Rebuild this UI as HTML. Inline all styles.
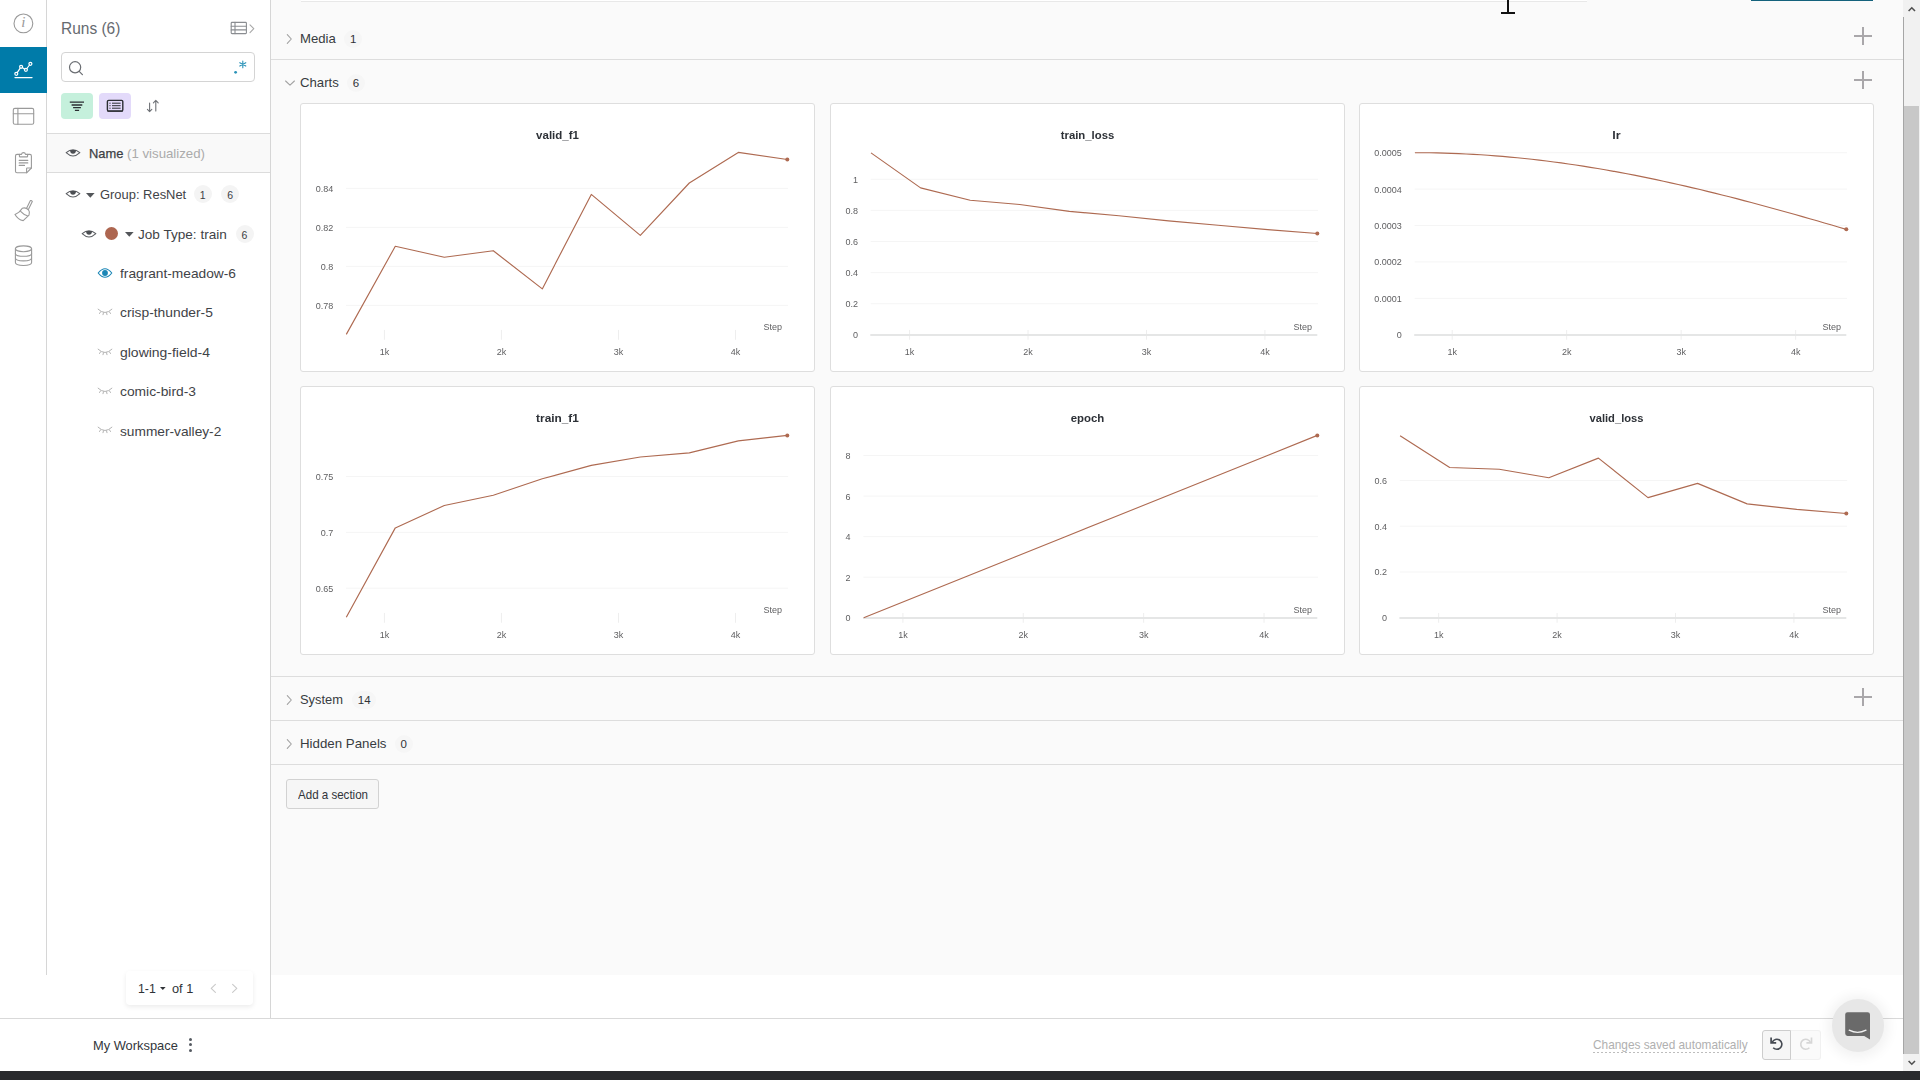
<!DOCTYPE html>
<html lang="en"><head><meta charset="utf-8"><title>Workspace</title>
<style>
html,body{margin:0;padding:0;}
body{width:1920px;height:1080px;position:relative;overflow:hidden;background:#fff;
 font-family:"Liberation Sans",sans-serif;}
.b{position:absolute;box-sizing:border-box;}
.t{position:absolute;white-space:nowrap;transform-origin:0 0;line-height:normal;display:block;}
svg{position:absolute;overflow:visible;}
</style></head><body>
<div class="b" style="left:271px;top:0px;width:1632px;height:975px;background:#fafafa;"></div>
<div class="b" style="left:46px;top:0px;width:1px;height:975px;background:#d6d6d6;"></div>
<div class="b" style="left:270px;top:0px;width:1px;height:1018px;background:#d6d6d6;"></div>
<div class="b" style="left:0px;top:1018px;width:1903px;height:1px;background:#d9d9d9;"></div>
<div class="b" style="left:0px;top:1071px;width:1920px;height:9px;background:#292a2d;"></div>
<div class="b" style="left:0px;top:47px;width:47px;height:46px;background:#007ba9;"></div>
<svg width="47" height="280" style="left:0;top:0" viewBox="0 0 47 280" fill="none" stroke="#9a9a9a" stroke-width="1.1" stroke-linecap="round" stroke-linejoin="round">
<circle cx="23.4" cy="23.4" r="9.4"/>
<g stroke="#fff" stroke-width="1.2">
 <path d="M17.2 72.6 L20.2 68.1 M22.2 67.4 L24.8 69.2 M26.9 68.5 L29.5 65"/>
 <circle cx="16.3" cy="73.8" r="1.5"/><circle cx="21.1" cy="66.8" r="1.5"/><circle cx="25.9" cy="69.8" r="1.5"/><circle cx="30.4" cy="63.8" r="1.5"/>
 <path d="M15 77.6 H32" stroke-width="1.4"/>
</g>
<rect x="13.3" y="108.4" width="20.4" height="15.9" rx="1.6"/>
<path d="M13.3 113.7 H33.7 M17.9 108.4 V124.3"/>
<path d="M19.4 154.4 H17 Q15.5 154.4 15.5 155.9 V171.3 Q15.5 172.8 17 172.8 H26.6 L31.4 168 V155.9 Q31.4 154.4 29.9 154.4 H27.6"/>
<path d="M26.6 172.8 V168.6 Q26.6 168 27.2 168 H31.4"/>
<path d="M19.4 154.4 H21.5 Q21.8 152.6 23.5 152.6 Q25.2 152.6 25.5 154.4 H27.6 V156.2 Q27.6 156.9 26.9 156.9 H20.1 Q19.4 156.9 19.4 156.2 Z"/>
<path d="M19.2 160.4 H27.8 M19.2 162.9 H27.8 M19.2 165.4 H24.5"/>
<path d="M30.4 200.6 L26.6 208.2 M32.3 201.6 L28.5 209.2 M30.4 200.6 Q31.7 200.2 32.3 201.6"/>
<path d="M22.3 208.3 Q25.6 207 28.6 210 Q30.3 212.3 29 215.2 L23.2 220.6 Q18 219.6 15 214.4 Q19.4 212.8 22.3 208.3 Z"/>
<path d="M20.6 211.3 Q23.6 214.6 27.4 215.7"/>
<ellipse cx="23.5" cy="248.8" rx="8.1" ry="2.9"/>
<path d="M15.4 248.8 V262.6 Q15.4 265.5 23.5 265.5 Q31.6 265.5 31.6 262.6 V248.8"/>
<path d="M15.4 253.4 Q15.4 256.3 23.5 256.3 Q31.6 256.3 31.6 253.4 M15.4 258 Q15.4 260.9 23.5 260.9 Q31.6 260.9 31.6 258"/>
</svg>
<span class="t" style="left:21.2px;top:14.4px;font-size:15px;color:#9a9a9a;font-family:'Liberation Serif',serif;font-style:italic;">i</span>
<span class="t" style="left:60.90px;top:18.96px;font-size:16.4px;color:#666a70;transform:scaleX(0.9446);">Runs (6)</span>
<svg width="30" height="16" style="left:229px;top:20px" viewBox="229 20 30 16" fill="none" stroke="#8a8d91" stroke-width="1.1" stroke-linejoin="round" stroke-linecap="round">
<rect x="231.2" y="22.4" width="15.2" height="11.2" rx="0.8"/>
<path d="M231.2 26.2 H246.4 M231.2 29.9 H246.4 M235 22.4 V33.6"/>
<path d="M250 24.8 L253.8 28.7 L250 32.6" stroke="#a8a8a8"/>
</svg>
<div class="b" style="left:61px;top:52px;width:194px;height:30px;border:1px solid #d4d4d4;border-radius:4px;background:#fff;"></div>
<svg width="200" height="30" style="left:61px;top:52px" viewBox="61 52 200 30" fill="none" stroke="#6a6d72" stroke-width="1.2" stroke-linecap="round">
<circle cx="75.1" cy="67.3" r="5.6"/><path d="M79.2 71.4 L82.4 74.6"/>
<g stroke="#2c93b8" stroke-width="1.1"><path d="M242.8 61 V67.8 M239.8 62.7 L245.8 66.1 M245.8 62.7 L239.8 66.1"/></g>
<circle cx="235.6" cy="72.3" r="1.4" fill="#2c93b8" stroke="none"/>
</svg>
<div class="b" style="left:61px;top:93px;width:32px;height:26px;background:#c5f0dc;border-radius:4px;"></div>
<div class="b" style="left:99px;top:93px;width:32px;height:26px;background:#e3dafa;border-radius:4px;"></div>
<svg width="110" height="30" style="left:61px;top:91px" viewBox="61 91 110 30" fill="none" stroke="#2b2e33" stroke-width="1.3" stroke-linecap="butt">
<path d="M69.8 102.1 H84 M71.6 105 H82.3 M73.1 107.7 H80.9 M74.9 110.4 H79.1" stroke-width="1.3"/>
<rect x="107.4" y="100.4" width="15.4" height="10.6" rx="1.2" stroke-width="1.4"/>
<path d="M107.4 111.3 H122.8" stroke-width="0.9"/>
<path d="M112 103.2 H120.6 M112 105.7 H120.6 M112 108.2 H120.6" stroke-width="1"/>
<path d="M109.4 103.2 H110.6 M109.4 105.7 H110.6 M109.4 108.2 H110.6" stroke-width="1"/>
<g stroke="#6f7277" stroke-width="1.1" stroke-linecap="round" stroke-linejoin="round">
<path d="M149.6 103 V111.6 M147.4 109.4 L149.6 111.6 L151.8 109.4"/>
<path d="M155.8 111 V100.4 M153.4 102.8 L155.8 100.4 L158.2 102.8"/>
</g>
</svg>
<div class="b" style="left:47px;top:133px;width:223px;height:40px;background:#f9f9f9;border-top:1px solid #dcdcdc;border-bottom:1px solid #dcdcdc;"></div>
<svg width="18" height="12" style="left:63.50px;top:147.40px" viewBox="63.50 147.40 18 12" fill="none" stroke="#5c5f63" stroke-width="1.05" stroke-linejoin="round">
<path d="M65.65 153.10 Q72.50 147.10 79.35 153.10 Q72.50 159.70 65.65 153.10 Z"/>
<path d="M69.60 150.30 Q69.50 154.10 72.50 154.10 Q75.50 154.10 75.50 150.30 Z" fill="#4c4f53" stroke="none"/>
</svg>
<span class="t" style="left:88.50px;top:146.04px;font-size:13px;color:#3c4045;transform:scaleX(0.9921);-webkit-text-stroke:0.25px #3c4045;">Name</span>
<span class="t" style="left:127.00px;top:146.04px;font-size:13px;color:#ababab;transform:scaleX(1.0185);">(1 visualized)</span>
<svg width="18" height="12" style="left:63.50px;top:188.40px" viewBox="63.50 188.40 18 12" fill="none" stroke="#5c5f63" stroke-width="1.05" stroke-linejoin="round">
<path d="M65.65 194.10 Q72.50 188.10 79.35 194.10 Q72.50 200.70 65.65 194.10 Z"/>
<path d="M69.60 191.30 Q69.50 195.10 72.50 195.10 Q75.50 195.10 75.50 191.30 Z" fill="#4c4f53" stroke="none"/>
</svg>
<svg width="12" height="8" style="left:85.10px;top:192.00px" viewBox="85.10 192.00 12 8"><path d="M86.10 193.00 H94.70 L90.40 197.80 Z" fill="#53565a"/></svg>
<span class="t" style="left:99.50px;top:187.04px;font-size:13px;color:#3f4347;transform:scaleX(0.9943);">Group: ResNet</span>
<div class="b" style="left:193.7px;top:185.0px;width:18px;height:18px;background:#f4f4f4;border-radius:9px;"></div>
<span class="t" style="left:199.78px;top:189.00px;font-size:10.5px;color:#3c3f44;">1</span>
<div class="b" style="left:221.1px;top:185.0px;width:18px;height:18px;background:#f4f4f4;border-radius:9px;"></div>
<span class="t" style="left:227.18px;top:189.00px;font-size:10.5px;color:#3c3f44;">6</span>
<svg width="18" height="12" style="left:79.50px;top:227.50px" viewBox="79.50 227.50 18 12" fill="none" stroke="#5c5f63" stroke-width="1.05" stroke-linejoin="round">
<path d="M81.65 233.20 Q88.50 227.20 95.35 233.20 Q88.50 239.80 81.65 233.20 Z"/>
<path d="M85.60 230.40 Q85.50 234.20 88.50 234.20 Q91.50 234.20 91.50 230.40 Z" fill="#4c4f53" stroke="none"/>
</svg>
<div class="b" style="left:105.0px;top:226.9px;width:13.4px;height:13.4px;background:#ad6650;border-radius:50%;"></div>
<svg width="12" height="8" style="left:123.60px;top:231.10px" viewBox="123.60 231.10 12 8"><path d="M124.60 232.10 H133.20 L128.90 236.90 Z" fill="#53565a"/></svg>
<span class="t" style="left:138.20px;top:226.74px;font-size:13px;color:#3f4347;transform:scaleX(1.0444);">Job Type: train</span>
<div class="b" style="left:235.5px;top:224.7px;width:18px;height:18px;background:#f4f4f4;border-radius:9px;"></div>
<span class="t" style="left:241.58px;top:228.70px;font-size:10.5px;color:#3c3f44;">6</span>
<svg width="18" height="12" style="left:95.60px;top:267.00px" viewBox="95.60 267.00 18 12" fill="none" stroke="#1a86b6" stroke-width="1.1" stroke-linejoin="round">
<path d="M97.80 273.00 Q104.60 264.40 111.40 273.00 Q104.60 281.60 97.80 273.00 Z"/>
<circle cx="104.60" cy="273.00" r="2.9" fill="#1a86b6" stroke="none"/>
</svg>
<span class="t" style="left:120.40px;top:265.94px;font-size:13px;color:#3f4347;transform:scaleX(1.0554);">fragrant-meadow-6</span>
<svg width="18" height="12" style="left:95.70px;top:306.20px" viewBox="95.70 306.20 18 12" fill="none" stroke="#b4b4b4" stroke-width="1" stroke-linecap="round">
<path d="M97.80 309.40 Q104.70 316.20 111.60 309.40"/>
<path d="M100.30 312.00 L99.20 313.70 M103.20 312.90 L102.70 314.90 M106.20 312.90 L106.70 314.90 M109.10 312.00 L110.20 313.70"/>
</svg>
<span class="t" style="left:120.40px;top:305.34px;font-size:13px;color:#3f4347;transform:scaleX(1.0627);">crisp-thunder-5</span>
<svg width="18" height="12" style="left:95.70px;top:345.60px" viewBox="95.70 345.60 18 12" fill="none" stroke="#b4b4b4" stroke-width="1" stroke-linecap="round">
<path d="M97.80 348.80 Q104.70 355.60 111.60 348.80"/>
<path d="M100.30 351.40 L99.20 353.10 M103.20 352.30 L102.70 354.30 M106.20 352.30 L106.70 354.30 M109.10 351.40 L110.20 353.10"/>
</svg>
<span class="t" style="left:120.40px;top:344.74px;font-size:13px;color:#3f4347;transform:scaleX(1.0738);">glowing-field-4</span>
<svg width="18" height="12" style="left:95.70px;top:385.00px" viewBox="95.70 385.00 18 12" fill="none" stroke="#b4b4b4" stroke-width="1" stroke-linecap="round">
<path d="M97.80 388.20 Q104.70 395.00 111.60 388.20"/>
<path d="M100.30 390.80 L99.20 392.50 M103.20 391.70 L102.70 393.70 M106.20 391.70 L106.70 393.70 M109.10 390.80 L110.20 392.50"/>
</svg>
<span class="t" style="left:120.40px;top:384.14px;font-size:13px;color:#3f4347;transform:scaleX(1.0628);">comic-bird-3</span>
<svg width="18" height="12" style="left:95.70px;top:424.40px" viewBox="95.70 424.40 18 12" fill="none" stroke="#b4b4b4" stroke-width="1" stroke-linecap="round">
<path d="M97.80 427.60 Q104.70 434.40 111.60 427.60"/>
<path d="M100.30 430.20 L99.20 431.90 M103.20 431.10 L102.70 433.10 M106.20 431.10 L106.70 433.10 M109.10 430.20 L110.20 431.90"/>
</svg>
<span class="t" style="left:120.40px;top:423.54px;font-size:13px;color:#3f4347;transform:scaleX(1.0545);">summer-valley-2</span>
<div class="b" style="left:126px;top:971px;width:127px;height:34px;background:#fff;border-radius:4px;box-shadow:0 2px 5px rgba(0,0,0,0.08);"></div>
<span class="t" style="left:138.20px;top:980.84px;font-size:13px;color:#2f3237;transform:scaleX(0.9475);">1-1</span>
<svg width="12" height="8" style="left:159.10px;top:986.40px" viewBox="159.10 986.40 12 8"><path d="M160.10 987.40 H165.70 L162.90 990.40 Z" fill="#2f3237"/></svg>
<span class="t" style="left:172.20px;top:980.84px;font-size:13px;color:#2f3237;transform:scaleX(0.9824);">of 1</span>
<svg width="40" height="14" style="left:205px;top:981px" viewBox="205 981 40 14" fill="none" stroke="#c9c9c9" stroke-width="1.1" stroke-linecap="round" stroke-linejoin="round">
<path d="M215.4 984.4 L211.2 988.4 L215.4 992.4"/><path d="M232.6 984.4 L236.8 988.4 L232.6 992.4"/></svg>
<span class="t" style="left:92.50px;top:1038.23px;font-size:13px;color:#32363b;transform:scaleX(0.9893);">My Workspace</span>
<div class="b" style="left:188.8px;top:1037.8000000000002px;width:3.2px;height:3.2px;background:#555a61;border-radius:50%;"></div>
<div class="b" style="left:188.8px;top:1043.2px;width:3.2px;height:3.2px;background:#555a61;border-radius:50%;"></div>
<div class="b" style="left:188.8px;top:1048.5px;width:3.2px;height:3.2px;background:#555a61;border-radius:50%;"></div>
<span class="t" style="left:1593.30px;top:1036.63px;font-size:13px;color:#b0b0b0;transform:scaleX(0.9104);">Changes saved automatically</span>
<div class="b" style="left:1593.3px;top:1052px;width:154.6px;height:1px;background:repeating-linear-gradient(90deg,#bdbdbd 0 2px,transparent 2px 4px);"></div>
<div class="b" style="left:1762px;top:1030px;width:29px;height:30px;background:#f6f6f6;border:1px solid #cdcdcd;border-radius:3px 0 0 3px;"></div>
<div class="b" style="left:1791px;top:1030px;width:30px;height:30px;background:#fafafa;border:1px solid #f1f1f1;border-left:none;border-radius:0 3px 3px 0;"></div>
<svg width="60" height="30" style="left:1762px;top:1030px" viewBox="1762 1030 60 30" fill="none" stroke-width="1.6" stroke-linecap="butt" stroke-linejoin="miter">
<g stroke="#454a52"><path d="M1772.3 1042.2 A5 5 0 1 1 1773.2 1047.7"/><path d="M1771.1 1037.5 V1042.8 H1776.2" stroke-width="1.7"/></g>
<g stroke="#d6d6d6"><path d="M1810.3 1042.2 A5 5 0 1 0 1809.4 1047.7"/><path d="M1811.5 1037.5 V1042.8 H1806.4" stroke-width="1.7"/></g>
</svg>
<div class="b" style="left:1831.8px;top:999px;width:52.4px;height:52.6px;background:#e7e7e7;border-radius:50%;box-shadow:0 1px 12px 5px rgba(0,0,0,0.05);"></div>
<svg width="30" height="30" style="left:1843px;top:1010px" viewBox="1843 1010 30 30">
<path d="M1847.6 1012.2 H1867.6 Q1870 1012.2 1870 1014.6 V1039.6 L1864.2 1036 H1847.6 Q1845.2 1036 1845.2 1033.6 V1014.6 Q1845.2 1012.2 1847.6 1012.2 Z" fill="#6a6a6a"/>
<path d="M1849.2 1030.2 Q1857.6 1034.6 1866 1030.2" fill="none" stroke="#f1f1f1" stroke-width="1.3" stroke-linecap="round"/>
</svg>
<div class="b" style="left:1903px;top:0px;width:17px;height:1071px;background:#f1f1f1;"></div>
<div class="b" style="left:1903px;top:17px;width:1px;height:1037px;background:#a6a6a6;"></div>
<div class="b" style="left:1904px;top:106px;width:15px;height:948px;background:#c8c8c8;"></div>
<svg width="17" height="1071" style="left:1903px;top:0" viewBox="1903 0 17 1071" fill="none" stroke="#505050" stroke-width="1.6">
<path d="M1908.6 11 L1911.8 7.8 L1915 11"/><path d="M1908.6 1061 L1911.8 1064.2 L1915 1061"/></svg>
<div class="b" style="left:301px;top:0px;width:1286px;height:1px;background:#ffffff;"></div>
<div class="b" style="left:301px;top:1px;width:1286px;height:1px;background:#e8e8e8;"></div>
<div class="b" style="left:1751px;top:0px;width:122px;height:1px;background:#14627c;"></div>
<div class="b" style="left:1507px;top:0px;width:2px;height:13px;background:#111;"></div>
<div class="b" style="left:1501px;top:12px;width:14px;height:2px;background:#111;"></div>
<div class="b" style="left:271px;top:59px;width:1632px;height:1px;background:#dddddd;"></div>
<div class="b" style="left:271px;top:676px;width:1632px;height:1px;background:#dddddd;"></div>
<div class="b" style="left:271px;top:720px;width:1632px;height:1px;background:#dddddd;"></div>
<div class="b" style="left:271px;top:764px;width:1632px;height:1px;background:#dddddd;"></div>
<svg width="10" height="14" style="left:284.20px;top:31.80px" viewBox="284.20 31.80 10 14" fill="none" stroke="#a2a2a2" stroke-width="1.1" stroke-linecap="round" stroke-linejoin="round"><path d="M287.50 34.40 L291.50 38.80 L287.50 43.20"/></svg>
<span class="t" style="left:300.30px;top:30.78px;font-size:13.5px;color:#383c41;transform:scaleX(0.9737);">Media</span>
<div class="b" style="left:344.2px;top:30.299999999999997px;width:18px;height:18px;background:#f6f6f6;border-radius:9px;"></div>
<span class="t" style="left:350.00px;top:32.89px;font-size:11.5px;color:#2f3237;">1</span>
<div class="b" style="left:1853.8px;top:35.05px;width:18.6px;height:1.7px;background:#a9a7aa;"></div>
<div class="b" style="left:1862.25px;top:26.599999999999998px;width:1.7px;height:18.6px;background:#a9a7aa;"></div>
<svg width="14" height="10" style="left:282.60px;top:78.20px" viewBox="282.60 78.20 14 10" fill="none" stroke="#a2a2a2" stroke-width="1.1" stroke-linecap="round" stroke-linejoin="round"><path d="M285.20 81.20 L289.60 85.40 L294.00 81.20"/></svg>
<span class="t" style="left:300.30px;top:74.58px;font-size:13.5px;color:#383c41;transform:scaleX(0.9759);">Charts</span>
<div class="b" style="left:347.0px;top:74.3px;width:18px;height:18px;background:#f6f6f6;border-radius:9px;"></div>
<span class="t" style="left:352.80px;top:76.69px;font-size:11.5px;color:#2f3237;">6</span>
<div class="b" style="left:1853.8px;top:78.95px;width:18.6px;height:1.7px;background:#a9a7aa;"></div>
<div class="b" style="left:1862.25px;top:70.5px;width:1.7px;height:18.6px;background:#a9a7aa;"></div>
<svg width="10" height="14" style="left:284.20px;top:692.80px" viewBox="284.20 692.80 10 14" fill="none" stroke="#a2a2a2" stroke-width="1.1" stroke-linecap="round" stroke-linejoin="round"><path d="M287.50 695.40 L291.50 699.80 L287.50 704.20"/></svg>
<span class="t" style="left:300.30px;top:691.58px;font-size:13.5px;color:#383c41;transform:scaleX(0.9554);">System</span>
<div class="b" style="left:352.2px;top:691.3px;width:24px;height:18px;background:#f6f6f6;border-radius:9px;"></div>
<span class="t" style="left:357.80px;top:693.69px;font-size:11.5px;color:#2f3237;">14</span>
<div class="b" style="left:1853.8px;top:696.15px;width:18.6px;height:1.7px;background:#a9a7aa;"></div>
<div class="b" style="left:1862.25px;top:687.7px;width:1.7px;height:18.6px;background:#a9a7aa;"></div>
<svg width="10" height="14" style="left:284.20px;top:736.80px" viewBox="284.20 736.80 10 14" fill="none" stroke="#a2a2a2" stroke-width="1.1" stroke-linecap="round" stroke-linejoin="round"><path d="M287.50 739.40 L291.50 743.80 L287.50 748.20"/></svg>
<span class="t" style="left:300.30px;top:735.78px;font-size:13.5px;color:#383c41;transform:scaleX(0.9851);">Hidden Panels</span>
<div class="b" style="left:394.8px;top:735.3px;width:18px;height:18px;background:#f6f6f6;border-radius:9px;"></div>
<span class="t" style="left:400.60px;top:737.89px;font-size:11.5px;color:#2f3237;">0</span>
<div class="b" style="left:286px;top:779px;width:93px;height:30px;background:#f6f6f6;border:1px solid #d2d2d2;border-radius:3px;"></div>
<span class="t" style="left:297.50px;top:787.03px;font-size:13px;color:#30343a;transform:scaleX(0.8887);">Add a section</span>
<div class="b" style="left:300px;top:103.0px;width:515px;height:269px;background:#fff;border:1px solid #dedede;border-radius:3px;"></div>
<svg width="515" height="269" style="left:300px;top:103.0px;will-change:transform" viewBox="300 103.0 515 269" font-family="Liberation Sans, sans-serif">
<text x="536.10" y="138.60" font-size="11.7" font-weight="700" fill="#2d3137" textLength="42.80" lengthAdjust="spacingAndGlyphs">valid_f1</text>
<path d="M346.00 188.40 H788.10" stroke="#f5f5f5" stroke-width="1" fill="none"/>
<text x="333.20" y="191.80" font-size="9" fill="#5f5f61" text-anchor="end">0.84</text>
<path d="M346.00 227.40 H788.10" stroke="#f5f5f5" stroke-width="1" fill="none"/>
<text x="333.20" y="230.80" font-size="9" fill="#5f5f61" text-anchor="end">0.82</text>
<path d="M346.00 266.40 H788.10" stroke="#f5f5f5" stroke-width="1" fill="none"/>
<text x="333.20" y="269.80" font-size="9" fill="#5f5f61" text-anchor="end">0.8</text>
<path d="M346.00 305.40 H788.10" stroke="#f5f5f5" stroke-width="1" fill="none"/>
<text x="333.20" y="308.80" font-size="9" fill="#5f5f61" text-anchor="end">0.78</text>
<path d="M384.41 329.95 V339.75" stroke="#eeeeee" stroke-width="1" fill="none"/>
<text x="384.41" y="355.10" font-size="9" fill="#5f5f61" text-anchor="middle">1k</text>
<path d="M501.45 329.95 V339.75" stroke="#eeeeee" stroke-width="1" fill="none"/>
<text x="501.45" y="355.10" font-size="9" fill="#5f5f61" text-anchor="middle">2k</text>
<path d="M618.48 329.95 V339.75" stroke="#eeeeee" stroke-width="1" fill="none"/>
<text x="618.48" y="355.10" font-size="9" fill="#5f5f61" text-anchor="middle">3k</text>
<path d="M735.52 329.95 V339.75" stroke="#eeeeee" stroke-width="1" fill="none"/>
<text x="735.52" y="355.10" font-size="9" fill="#5f5f61" text-anchor="middle">4k</text>
<text x="781.90" y="329.90" font-size="9" fill="#5f5f61" text-anchor="end">Step</text>
<polyline points="346.30,334.40 395.30,246.30 444.30,257.20 493.30,250.70 542.30,288.90 591.30,194.40 640.30,235.40 689.30,183.00 738.30,152.40 787.30,159.50" fill="none" stroke="#ae6a51" stroke-width="1.15" stroke-linejoin="round"/>
<circle cx="787.30" cy="159.50" r="2" fill="#ae6a51"/>
</svg>
<div class="b" style="left:830px;top:103.0px;width:515px;height:269px;background:#fff;border:1px solid #dedede;border-radius:3px;"></div>
<svg width="515" height="269" style="left:830px;top:103.0px;will-change:transform" viewBox="830 103.0 515 269" font-family="Liberation Sans, sans-serif">
<text x="1060.70" y="138.60" font-size="11.7" font-weight="700" fill="#2d3137" textLength="53.60" lengthAdjust="spacingAndGlyphs">train_loss</text>
<path d="M870.70 179.30 H1318.10" stroke="#f5f5f5" stroke-width="1" fill="none"/>
<text x="857.90" y="182.70" font-size="9" fill="#5f5f61" text-anchor="end">1</text>
<path d="M870.70 210.40 H1318.10" stroke="#f5f5f5" stroke-width="1" fill="none"/>
<text x="857.90" y="213.80" font-size="9" fill="#5f5f61" text-anchor="end">0.8</text>
<path d="M870.70 241.50 H1318.10" stroke="#f5f5f5" stroke-width="1" fill="none"/>
<text x="857.90" y="244.90" font-size="9" fill="#5f5f61" text-anchor="end">0.6</text>
<path d="M870.70 272.60 H1318.10" stroke="#f5f5f5" stroke-width="1" fill="none"/>
<text x="857.90" y="276.00" font-size="9" fill="#5f5f61" text-anchor="end">0.4</text>
<path d="M870.70 303.70 H1318.10" stroke="#f5f5f5" stroke-width="1" fill="none"/>
<text x="857.90" y="307.10" font-size="9" fill="#5f5f61" text-anchor="end">0.2</text>
<text x="857.90" y="338.20" font-size="9" fill="#5f5f61" text-anchor="end">0</text>
<path d="M909.57 329.95 V339.75" stroke="#eeeeee" stroke-width="1" fill="none"/>
<text x="909.57" y="355.10" font-size="9" fill="#5f5f61" text-anchor="middle">1k</text>
<path d="M1028.01 329.95 V339.75" stroke="#eeeeee" stroke-width="1" fill="none"/>
<text x="1028.01" y="355.10" font-size="9" fill="#5f5f61" text-anchor="middle">2k</text>
<path d="M1146.46 329.95 V339.75" stroke="#eeeeee" stroke-width="1" fill="none"/>
<text x="1146.46" y="355.10" font-size="9" fill="#5f5f61" text-anchor="middle">3k</text>
<path d="M1264.90 329.95 V339.75" stroke="#eeeeee" stroke-width="1" fill="none"/>
<text x="1264.90" y="355.10" font-size="9" fill="#5f5f61" text-anchor="middle">4k</text>
<path d="M870.30 335.05 H1317.30" stroke="#e5e6e6" stroke-width="2" fill="none"/>
<text x="1311.90" y="329.90" font-size="9" fill="#5f5f61" text-anchor="end">Step</text>
<polyline points="871.00,152.90 920.59,187.90 970.18,200.20 1019.77,204.50 1069.36,211.40 1118.94,215.70 1168.53,220.90 1218.12,225.30 1267.71,229.60 1317.30,233.50" fill="none" stroke="#ae6a51" stroke-width="1.15" stroke-linejoin="round"/>
<circle cx="1317.30" cy="233.50" r="2" fill="#ae6a51"/>
</svg>
<div class="b" style="left:1359px;top:103.0px;width:515px;height:269px;background:#fff;border:1px solid #dedede;border-radius:3px;"></div>
<svg width="515" height="269" style="left:1359px;top:103.0px;will-change:transform" viewBox="1359 103.0 515 269" font-family="Liberation Sans, sans-serif">
<text x="1612.30" y="138.60" font-size="11.7" font-weight="700" fill="#2d3137" textLength="8.40" lengthAdjust="spacingAndGlyphs">lr</text>
<path d="M1414.60 152.70 H1847.10" stroke="#f5f5f5" stroke-width="1" fill="none"/>
<text x="1401.80" y="156.10" font-size="9" fill="#5f5f61" text-anchor="end">0.0005</text>
<path d="M1414.60 189.10 H1847.10" stroke="#f5f5f5" stroke-width="1" fill="none"/>
<text x="1401.80" y="192.50" font-size="9" fill="#5f5f61" text-anchor="end">0.0004</text>
<path d="M1414.60 225.50 H1847.10" stroke="#f5f5f5" stroke-width="1" fill="none"/>
<text x="1401.80" y="228.90" font-size="9" fill="#5f5f61" text-anchor="end">0.0003</text>
<path d="M1414.60 261.90 H1847.10" stroke="#f5f5f5" stroke-width="1" fill="none"/>
<text x="1401.80" y="265.30" font-size="9" fill="#5f5f61" text-anchor="end">0.0002</text>
<path d="M1414.60 298.40 H1847.10" stroke="#f5f5f5" stroke-width="1" fill="none"/>
<text x="1401.80" y="301.80" font-size="9" fill="#5f5f61" text-anchor="end">0.0001</text>
<text x="1401.80" y="338.20" font-size="9" fill="#5f5f61" text-anchor="end">0</text>
<path d="M1452.18 329.95 V339.75" stroke="#eeeeee" stroke-width="1" fill="none"/>
<text x="1452.18" y="355.10" font-size="9" fill="#5f5f61" text-anchor="middle">1k</text>
<path d="M1566.67 329.95 V339.75" stroke="#eeeeee" stroke-width="1" fill="none"/>
<text x="1566.67" y="355.10" font-size="9" fill="#5f5f61" text-anchor="middle">2k</text>
<path d="M1681.16 329.95 V339.75" stroke="#eeeeee" stroke-width="1" fill="none"/>
<text x="1681.16" y="355.10" font-size="9" fill="#5f5f61" text-anchor="middle">3k</text>
<path d="M1795.65 329.95 V339.75" stroke="#eeeeee" stroke-width="1" fill="none"/>
<text x="1795.65" y="355.10" font-size="9" fill="#5f5f61" text-anchor="middle">4k</text>
<path d="M1414.20 335.05 H1846.30" stroke="#e5e6e6" stroke-width="2" fill="none"/>
<text x="1840.90" y="329.90" font-size="9" fill="#5f5f61" text-anchor="end">Step</text>
<polyline points="1414.90,152.70 1422.21,152.73 1429.52,152.80 1436.84,152.93 1444.15,153.12 1451.46,153.35 1458.77,153.64 1466.08,153.97 1473.39,154.36 1480.71,154.80 1488.02,155.30 1495.33,155.84 1502.64,156.43 1509.95,157.07 1517.27,157.76 1524.58,158.50 1531.89,159.29 1539.20,160.13 1546.51,161.02 1553.83,161.95 1561.14,162.93 1568.45,163.96 1575.76,165.03 1583.07,166.15 1590.38,167.31 1597.70,168.52 1605.01,169.76 1612.32,171.06 1619.63,172.39 1626.94,173.76 1634.26,175.18 1641.57,176.63 1648.88,178.12 1656.19,179.65 1663.50,181.22 1670.82,182.82 1678.13,184.45 1685.44,186.12 1692.75,187.83 1700.06,189.56 1707.37,191.33 1714.69,193.13 1722.00,194.95 1729.31,196.80 1736.62,198.68 1743.93,200.59 1751.25,202.52 1758.56,204.48 1765.87,206.45 1773.18,208.45 1780.49,210.47 1787.81,212.51 1795.12,214.56 1802.43,216.64 1809.74,218.72 1817.05,220.82 1824.36,222.94 1831.68,225.07 1838.99,227.20 1846.30,229.35" fill="none" stroke="#ae6a51" stroke-width="1.15" stroke-linejoin="round"/>
<circle cx="1846.30" cy="229.35" r="2" fill="#ae6a51"/>
</svg>
<div class="b" style="left:300px;top:386.0px;width:515px;height:269px;background:#fff;border:1px solid #dedede;border-radius:3px;"></div>
<svg width="515" height="269" style="left:300px;top:386.0px;will-change:transform" viewBox="300 386.0 515 269" font-family="Liberation Sans, sans-serif">
<text x="536.10" y="421.60" font-size="11.7" font-weight="700" fill="#2d3137" textLength="42.80" lengthAdjust="spacingAndGlyphs">train_f1</text>
<path d="M346.00 476.50 H788.10" stroke="#f5f5f5" stroke-width="1" fill="none"/>
<text x="333.20" y="479.90" font-size="9" fill="#5f5f61" text-anchor="end">0.75</text>
<path d="M346.00 532.40 H788.10" stroke="#f5f5f5" stroke-width="1" fill="none"/>
<text x="333.20" y="535.80" font-size="9" fill="#5f5f61" text-anchor="end">0.7</text>
<path d="M346.00 588.20 H788.10" stroke="#f5f5f5" stroke-width="1" fill="none"/>
<text x="333.20" y="591.60" font-size="9" fill="#5f5f61" text-anchor="end">0.65</text>
<path d="M384.41 612.95 V622.75" stroke="#eeeeee" stroke-width="1" fill="none"/>
<text x="384.41" y="638.10" font-size="9" fill="#5f5f61" text-anchor="middle">1k</text>
<path d="M501.45 612.95 V622.75" stroke="#eeeeee" stroke-width="1" fill="none"/>
<text x="501.45" y="638.10" font-size="9" fill="#5f5f61" text-anchor="middle">2k</text>
<path d="M618.48 612.95 V622.75" stroke="#eeeeee" stroke-width="1" fill="none"/>
<text x="618.48" y="638.10" font-size="9" fill="#5f5f61" text-anchor="middle">3k</text>
<path d="M735.52 612.95 V622.75" stroke="#eeeeee" stroke-width="1" fill="none"/>
<text x="735.52" y="638.10" font-size="9" fill="#5f5f61" text-anchor="middle">4k</text>
<text x="781.90" y="612.90" font-size="9" fill="#5f5f61" text-anchor="end">Step</text>
<polyline points="346.30,617.30 395.30,527.90 444.30,505.50 493.30,495.20 542.30,478.80 591.30,465.40 640.30,457.00 689.30,452.90 738.30,440.90 787.30,435.40" fill="none" stroke="#ae6a51" stroke-width="1.15" stroke-linejoin="round"/>
<circle cx="787.30" cy="435.40" r="2" fill="#ae6a51"/>
</svg>
<div class="b" style="left:830px;top:386.0px;width:515px;height:269px;background:#fff;border:1px solid #dedede;border-radius:3px;"></div>
<svg width="515" height="269" style="left:830px;top:386.0px;will-change:transform" viewBox="830 386.0 515 269" font-family="Liberation Sans, sans-serif">
<text x="1070.70" y="421.60" font-size="11.7" font-weight="700" fill="#2d3137" textLength="33.60" lengthAdjust="spacingAndGlyphs">epoch</text>
<path d="M863.40 455.50 H1318.10" stroke="#f5f5f5" stroke-width="1" fill="none"/>
<text x="850.60" y="458.90" font-size="9" fill="#5f5f61" text-anchor="end">8</text>
<path d="M863.40 496.10 H1318.10" stroke="#f5f5f5" stroke-width="1" fill="none"/>
<text x="850.60" y="499.50" font-size="9" fill="#5f5f61" text-anchor="end">6</text>
<path d="M863.40 536.60 H1318.10" stroke="#f5f5f5" stroke-width="1" fill="none"/>
<text x="850.60" y="540.00" font-size="9" fill="#5f5f61" text-anchor="end">4</text>
<path d="M863.40 577.20 H1318.10" stroke="#f5f5f5" stroke-width="1" fill="none"/>
<text x="850.60" y="580.60" font-size="9" fill="#5f5f61" text-anchor="end">2</text>
<text x="850.60" y="621.20" font-size="9" fill="#5f5f61" text-anchor="end">0</text>
<path d="M902.90 612.95 V622.75" stroke="#eeeeee" stroke-width="1" fill="none"/>
<text x="902.90" y="638.10" font-size="9" fill="#5f5f61" text-anchor="middle">1k</text>
<path d="M1023.28 612.95 V622.75" stroke="#eeeeee" stroke-width="1" fill="none"/>
<text x="1023.28" y="638.10" font-size="9" fill="#5f5f61" text-anchor="middle">2k</text>
<path d="M1143.66 612.95 V622.75" stroke="#eeeeee" stroke-width="1" fill="none"/>
<text x="1143.66" y="638.10" font-size="9" fill="#5f5f61" text-anchor="middle">3k</text>
<path d="M1264.04 612.95 V622.75" stroke="#eeeeee" stroke-width="1" fill="none"/>
<text x="1264.04" y="638.10" font-size="9" fill="#5f5f61" text-anchor="middle">4k</text>
<path d="M863.00 618.05 H1317.30" stroke="#e5e6e6" stroke-width="2" fill="none"/>
<text x="1311.90" y="612.90" font-size="9" fill="#5f5f61" text-anchor="end">Step</text>
<polyline points="863.70,617.80 914.10,597.53 964.50,577.27 1014.90,557.00 1065.30,536.73 1115.70,516.47 1166.10,496.20 1216.50,475.93 1266.90,455.67 1317.30,435.40" fill="none" stroke="#ae6a51" stroke-width="1.15" stroke-linejoin="round"/>
<circle cx="1317.30" cy="435.40" r="2" fill="#ae6a51"/>
</svg>
<div class="b" style="left:1359px;top:386.0px;width:515px;height:269px;background:#fff;border:1px solid #dedede;border-radius:3px;"></div>
<svg width="515" height="269" style="left:1359px;top:386.0px;will-change:transform" viewBox="1359 386.0 515 269" font-family="Liberation Sans, sans-serif">
<text x="1589.50" y="421.60" font-size="11.7" font-weight="700" fill="#2d3137" textLength="54.00" lengthAdjust="spacingAndGlyphs">valid_loss</text>
<path d="M1399.80 480.50 H1847.10" stroke="#f5f5f5" stroke-width="1" fill="none"/>
<text x="1387.00" y="483.90" font-size="9" fill="#5f5f61" text-anchor="end">0.6</text>
<path d="M1399.80 526.20 H1847.10" stroke="#f5f5f5" stroke-width="1" fill="none"/>
<text x="1387.00" y="529.60" font-size="9" fill="#5f5f61" text-anchor="end">0.4</text>
<path d="M1399.80 572.00 H1847.10" stroke="#f5f5f5" stroke-width="1" fill="none"/>
<text x="1387.00" y="575.40" font-size="9" fill="#5f5f61" text-anchor="end">0.2</text>
<text x="1387.00" y="621.20" font-size="9" fill="#5f5f61" text-anchor="end">0</text>
<path d="M1438.66 612.95 V622.75" stroke="#eeeeee" stroke-width="1" fill="none"/>
<text x="1438.66" y="638.10" font-size="9" fill="#5f5f61" text-anchor="middle">1k</text>
<path d="M1557.08 612.95 V622.75" stroke="#eeeeee" stroke-width="1" fill="none"/>
<text x="1557.08" y="638.10" font-size="9" fill="#5f5f61" text-anchor="middle">2k</text>
<path d="M1675.49 612.95 V622.75" stroke="#eeeeee" stroke-width="1" fill="none"/>
<text x="1675.49" y="638.10" font-size="9" fill="#5f5f61" text-anchor="middle">3k</text>
<path d="M1793.91 612.95 V622.75" stroke="#eeeeee" stroke-width="1" fill="none"/>
<text x="1793.91" y="638.10" font-size="9" fill="#5f5f61" text-anchor="middle">4k</text>
<path d="M1399.40 618.05 H1846.30" stroke="#e5e6e6" stroke-width="2" fill="none"/>
<text x="1840.90" y="612.90" font-size="9" fill="#5f5f61" text-anchor="end">Step</text>
<polyline points="1400.10,435.80 1449.68,467.50 1499.26,469.20 1548.83,477.70 1598.41,458.10 1647.99,497.60 1697.57,483.40 1747.14,503.90 1796.72,509.40 1846.30,513.50" fill="none" stroke="#ae6a51" stroke-width="1.15" stroke-linejoin="round"/>
<circle cx="1846.30" cy="513.50" r="2" fill="#ae6a51"/>
</svg>
</body></html>
